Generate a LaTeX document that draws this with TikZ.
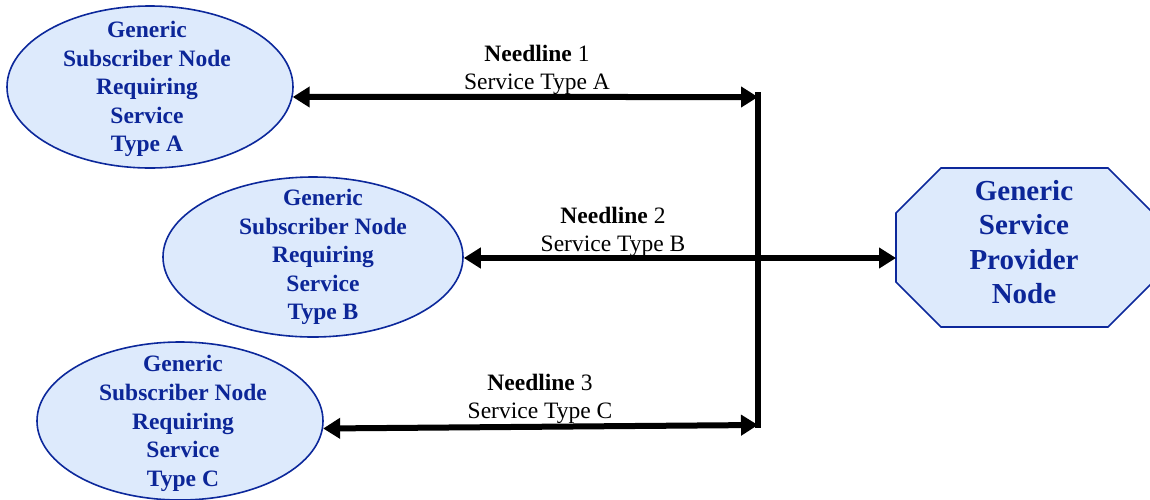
\documentclass[tikz,border=0pt]{standalone}
\usepackage{fontspec}
\setmainfont{Liberation Serif}
\usetikzlibrary{arrows.meta,shapes.geometric,calc}
\definecolor{nodefill}{RGB}{221,234,252}
\definecolor{nodeline}{RGB}{12,40,155}
\definecolor{nodetext}{RGB}{12,38,152}
\tikzset{
  subscriber/.style={ellipse,draw=nodeline,fill=nodefill,line width=1.6pt,
    inner sep=0pt},
  subtext/.style={align=center,text=nodetext,
    font=\fontsize{23.5}{28.6}\selectfont\bfseries},
  provtext/.style={align=center,text=nodetext,
    font=\fontsize{29}{34.5}\selectfont\bfseries},
  linklabel/.style={align=center,font=\fontsize{23.5}{28}\selectfont},
  needline/.style={line width=6pt,
    {Triangle[length=17pt,width=20pt]}-{Triangle[length=17pt,width=20pt]}},
  bus/.style={line width=6pt}
}
\begin{document}
\begin{tikzpicture}[x=1pt,y=-1pt]
\useasboundingbox (0,0) rectangle (1150,499);

% subscriber nodes
\node[subscriber,minimum width=286pt,minimum height=162pt] (A) at (150,87) {};
\node[subtext] (tA) at (147,89) {Generic\\Subscriber Node\\Requiring\\Service\\Type A};
\node[subscriber,minimum width=300pt,minimum height=160pt] (B) at (313,257) {};
\node[subtext] (tB) at (323,257) {Generic\\Subscriber Node\\Requiring\\Service\\Type B};
\node[subscriber,minimum width=286pt,minimum height=158pt] (C) at (180,421) {};
\node[subtext] (tC) at (183,423.5) {Generic\\Subscriber Node\\Requiring\\Service\\Type C};

% provider node: an octagon with unequal sides
\coordinate (P) at (1024,247.5);
\draw[draw=nodeline,fill=nodefill,line width=1.6pt]
  (941,168) -- (1108,168) -- (1153,213) -- (1153,282) -- (1108,327)
  -- (941,327) -- (896,282) -- (896,213) -- cycle;
\node[provtext] (prov) at (1024,242) {Generic\\Service\\Provider\\Node};
\coordinate (Pw) at (896,258);

% shared bus
\coordinate (bt) at (758,92);
\coordinate (bb) at (758,428);
\coordinate (jA) at (758,97);
\coordinate (jC) at (758,425);
\draw[bus] (bt) -- (bb);

% needlines
\draw[needline] (A.-4) -- (jA);
\draw[needline] (B.east |- Pw) -- (Pw);
\draw[needline] (C.-3) -- (jC);

% link labels
\node[linklabel] (lA) at (537,69.5) {\textbf{Needline} 1\\Service Type A};
\node[linklabel] (lB) at (613,231.5) {\textbf{Needline} 2\\Service Type B};
\node[linklabel] (lC) at (540,398.5) {\textbf{Needline} 3\\Service Type C};
\end{tikzpicture}
\end{document}
